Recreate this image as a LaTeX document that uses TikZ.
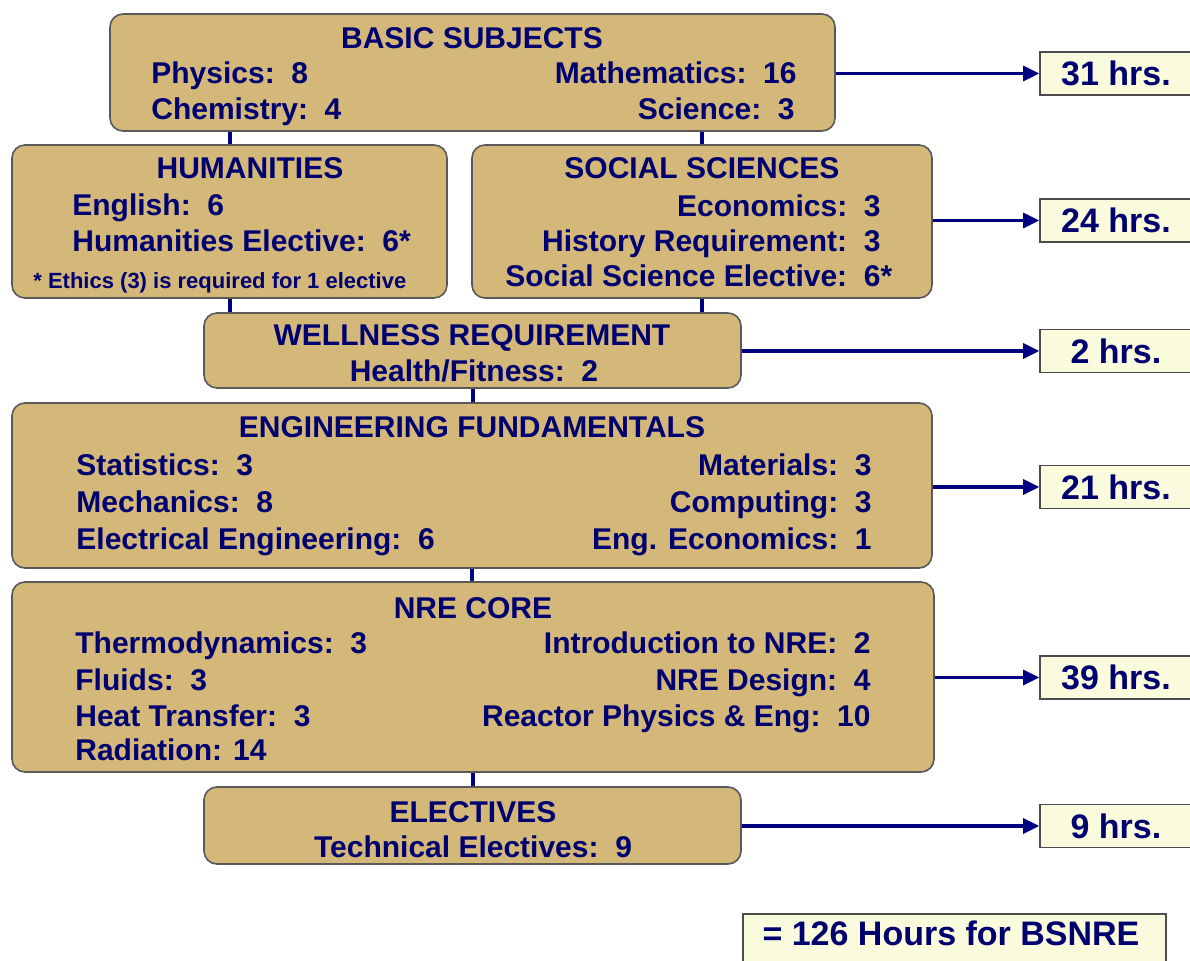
\documentclass[tikz,border=0pt]{standalone}
\usepackage{fontspec}
\setmainfont{Liberation Sans}
\usetikzlibrary{arrows.meta}
\definecolor{panelfill}{RGB}{212,184,122}
\definecolor{navytext}{RGB}{0,0,110}
\definecolor{hourfill}{RGB}{250,250,221}
\definecolor{linkblue}{RGB}{0,0,128}

\begin{document}
\begin{tikzpicture}[x=0.5pt, y=-0.5pt,
    panel/.style={draw=black!65, line width=0.8pt, fill=panelfill, rounded corners=6.5pt, inner sep=0pt},
    hourbox/.style={draw=black!70, line width=0.8pt, fill=hourfill, inner sep=0pt, minimum width=76pt, minimum height=21.5pt, text=navytext, font=\fontsize{17}{20}\selectfont\bfseries},
    headtext/.style={text=navytext, font=\fontsize{15}{18}\selectfont\bfseries, inner sep=0pt, anchor=base},
    lefttext/.style={headtext, anchor=base west},
    righttext/.style={headtext, anchor=base east},
    tie/.style={draw=linkblue, line width=2pt},
    feed/.style={draw=linkblue, line width=1.6pt, -{Triangle[length=8pt, width=7.5pt]}}]
    \useasboundingbox (0,0) rectangle (1190,961);
    % Panels (course groups)
    \node[panel, minimum width=362.5pt, minimum height=58.5pt] (basic_subj) at (472.5,72.5) {};
    \node[panel, minimum width=217.5pt, minimum height=76.5pt] (humanities) at (229.5,221.5) {};
    \node[panel, minimum width=230pt, minimum height=76.5pt] (social_sci) at (702,221.5) {};
    \node[panel, minimum width=268.5pt, minimum height=37.5pt] (wellness) at (472.5,350.5) {};
    \node[panel, minimum width=460pt, minimum height=82.5pt] (eng_fund) at (472,485.5) {};
    \node[panel, minimum width=461pt, minimum height=95pt] (nre_core) at (473,677) {};
    \node[panel, minimum width=268.5pt, minimum height=38.5pt] (electives) at (472.5,825.5) {};
    % Hour totals
    \node[hourbox] (hrs_basic) at (1116,73.5) {31 hrs.};
    \node[hourbox] (hrs_social) at (1116,220.5) {24 hrs.};
    \node[hourbox] (hrs_well) at (1116,351) {2 hrs.};
    \node[hourbox] (hrs_eng) at (1116,487) {21 hrs.};
    \node[hourbox] (hrs_nre) at (1116,677.5) {39 hrs.};
    \node[hourbox] (hrs_elec) at (1116,826) {9 hrs.};
    \node[hourbox, minimum width=211.5pt, minimum height=26pt] (total) at (954.5,940) {};
    \node[headtext, font=\fontsize{17}{20}\selectfont\bfseries] (total_text) at (951,946) {= 126 Hours for BSNRE};
    % Links between panels
    \draw[tie] (basic_subj.south -| humanities.north) -- (humanities.north);
    \draw[tie] (basic_subj.south -| social_sci.north) -- (social_sci.north);
    \draw[tie] (humanities.south) -- (humanities.south |- wellness.north);
    \draw[tie] (social_sci.south) -- (social_sci.south |- wellness.north);
    \draw[tie] (wellness.south) -- (wellness.south |- eng_fund.north);
    \draw[tie] (eng_fund.south) -- (eng_fund.south |- nre_core.north);
    \draw[tie] (nre_core.south) -- (nre_core.south |- electives.north);
    % Arrows to the hour totals
    \draw[feed] (basic_subj.east |- hrs_basic.west) -- (hrs_basic.west);
    \draw[feed] (social_sci.east |- hrs_social.west) -- (hrs_social.west);
    \draw[feed] (wellness.east |- hrs_well.west) -- (hrs_well.west);
    \draw[feed] (eng_fund.east |- hrs_eng.west) -- (hrs_eng.west);
    \draw[feed] (nre_core.east |- hrs_nre.west) -- (hrs_nre.west);
    \draw[feed] (electives.east |- hrs_elec.west) -- (hrs_elec.west);
    % Basic subjects
    \node[headtext] (basic_head) at (472,49) {BASIC SUBJECTS};
    \node[lefttext] (physics) at (151,84) {Physics:~~8};
    \node[lefttext] (chemistry) at (151,120) {Chemistry:~~4};
    \node[righttext] (mathematics) at (797,84) {Mathematics:~~16};
    \node[righttext] (science) at (795,120) {Science:~~3};
    % Humanities
    \node[headtext] (hum_head) at (250,179) {HUMANITIES};
    \node[lefttext] (english) at (72,216) {English:~~6};
    \node[lefttext] (hum_elective) at (72,252) {Humanities Elective:~~6*};
    \node[lefttext, font=\fontsize{11}{13}\selectfont\bfseries] (ethics_note) at (33,289) {* Ethics (3) is required for 1 elective};
    % Social sciences
    \node[headtext] (soc_head) at (702,179) {SOCIAL SCIENCES};
    \node[righttext] (economics) at (881,217) {Economics:~~3};
    \node[righttext] (history) at (881,252) {History Requirement:~~3};
    \node[righttext] (soc_elective) at (881,287) {Social Science Elective:~~6\rlap{*}};
    % Wellness
    \node[headtext] (well_head) at (472,346) {WELLNESS REQUIREMENT};
    \node[headtext] (fitness) at (474,382) {Health/Fitness:~~2};
    % Engineering fundamentals
    \node[headtext] (eng_head) at (472,438) {ENGINEERING FUNDAMENTALS};
    \node[lefttext] (statistics) at (76,476) {Statistics:~~3};
    \node[lefttext] (mechanics) at (76,513) {Mechanics:~~8};
    \node[lefttext] (elec_eng) at (76,550) {Electrical Engineering:~~6};
    \node[righttext] (materials) at (872,476) {Materials:~~3};
    \node[righttext] (computing) at (872,513) {Computing:~~3};
    \node[righttext] (eng_econ) at (872,550) {Eng. Economics:~~1};
    % NRE core
    \node[headtext] (nre_head) at (473,619) {NRE CORE};
    \node[lefttext] (thermo) at (75,654) {Thermodynamics:~~3};
    \node[lefttext] (fluids) at (75,691) {Fluids:~~3};
    \node[lefttext] (heat) at (75,727) {Heat Transfer:~~3};
    \node[lefttext] (radiation) at (75,761) {Radiation: 14};
    \node[righttext] (intro_nre) at (871,654) {Introduction to NRE:~~2};
    \node[righttext] (nre_design) at (871,691) {NRE Design:~~4};
    \node[righttext] (reactor) at (871,727) {Reactor Physics \& Eng:~~10};
    % Electives
    \node[headtext] (elec_head) at (473,823) {ELECTIVES};
    \node[headtext] (tech_elec) at (473,858) {Technical Electives:~~9};
\end{tikzpicture}
\end{document}
